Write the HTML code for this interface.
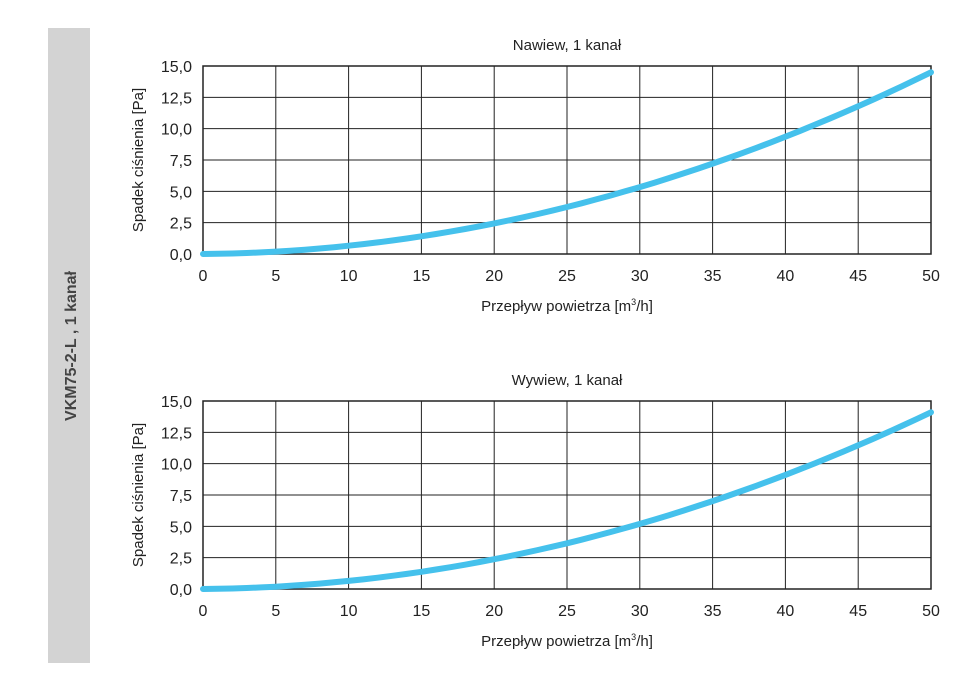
<!DOCTYPE html>
<html><head><meta charset="utf-8"><style>
body{margin:0;background:#fff;}
svg text{font-family:"Liberation Sans",sans-serif;fill:#222;}
</style></head><body>
<svg width="975" height="682" xmlns="http://www.w3.org/2000/svg">
<rect x="48" y="28" width="42" height="635" fill="#d3d3d3"/>
<text transform="translate(76,346) rotate(-90)" text-anchor="middle" font-size="16" font-weight="bold" fill="#444" style="fill:#444">VKM75-2-L , 1 kanał</text>
<g id="c1"></g>
<g id="c2"></g>
</svg>
<script>
function chart(g,top,title,k){
 const L=203,R=931,B=top+188,H=188,W=R-L;let s='';
 for(let i=0;i<=10;i++){const x=L+W*i/10;s+=`<line x1="${x}" y1="${top}" x2="${x}" y2="${B}" stroke="#222" stroke-width="1"/>`;
 s+=`<text x="${x}" y="${B+27}" font-size="16" text-anchor="middle">${i*5}</text>`;}
 for(let j=0;j<=6;j++){const y=B-H*j/6;s+=`<line x1="${L}" y1="${y}" x2="${R}" y2="${y}" stroke="#222" stroke-width="1"/>`;
 s+=`<text x="${L-11}" y="${y+6}" font-size="16" text-anchor="end">${(j*2.5).toFixed(1).replace('.',',')}</text>`;}
 s+=`<rect x="${L}" y="${top}" width="${W}" height="${H}" fill="none" stroke="#222" stroke-width="1.5"/>`;
 s+=`<text x="${(L+R)/2}" y="${top-16}" font-size="15" text-anchor="middle">${title}</text>`;
 s+=`<text x="${(L+R)/2}" y="${B+57}" font-size="15" text-anchor="middle">Przepływ powietrza [m<tspan font-size="9" dy="-6">3</tspan><tspan dy="6">/h]</tspan></text>`;
 s+=`<text transform="translate(143,${top+H/2}) rotate(-90)" font-size="15" text-anchor="middle">Spadek ciśnienia [Pa]</text>`;
 let p='';for(let x=0;x<=50;x+=1){const v=k*x*x+0.01*x;p+=(x?'L':'M')+(L+W*x/50).toFixed(1)+','+(B-v/15*H).toFixed(1);}
 s+=`<path d="${p}" fill="none" stroke="#45c1ec" stroke-width="6" stroke-linecap="round"/>`;
 document.getElementById(g).innerHTML=s;}
chart('c1',66,'Nawiew, 1 kanał',0.0056);
chart('c2',401,'Wywiew, 1 kanał',0.00544);
</script>
</body></html>
